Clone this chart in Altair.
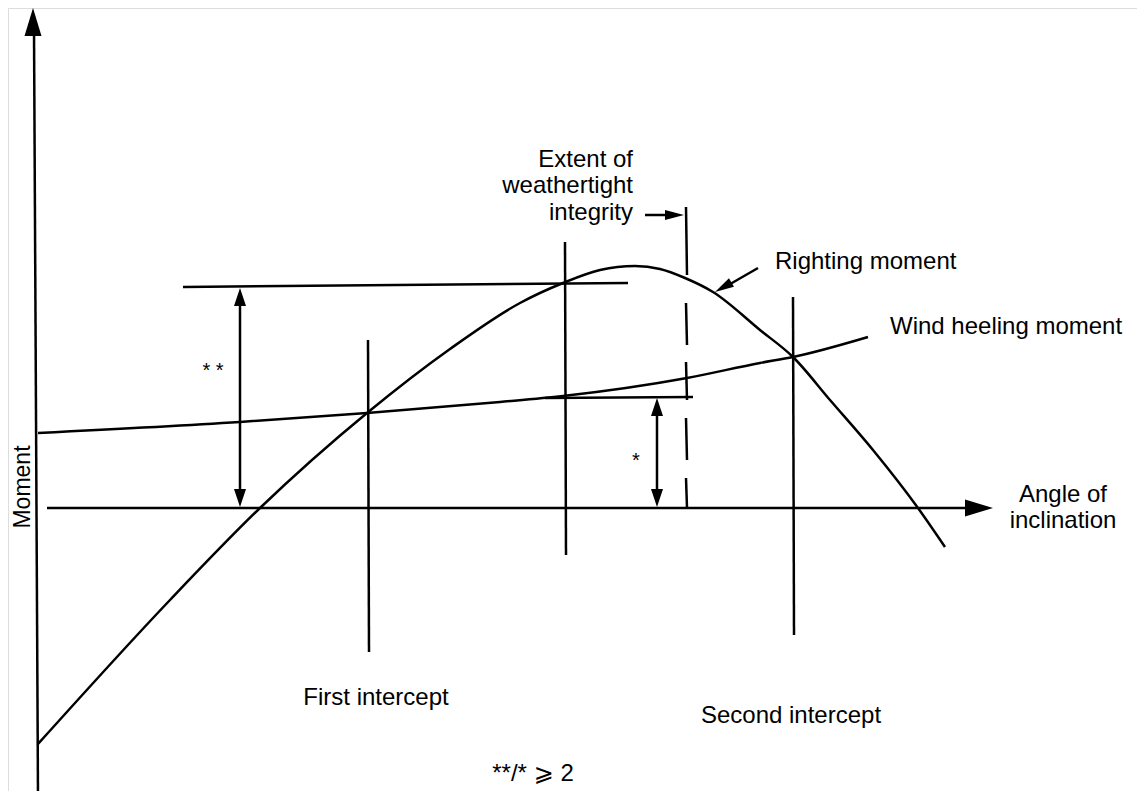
import altair as alt
import pandas as pd

# ---- curves (page pixel coordinates) ----
RIGHT_X = [38, 170, 260, 367, 450, 520, 563, 600, 635, 660, 685, 713, 760, 793, 830, 873, 918, 945]
RIGHT_Y = [744, 600, 508, 413, 349, 303, 283, 270, 266, 269, 278, 292, 330, 357, 400, 450, 508, 547]
WIND_X = [38, 240, 367, 500, 563, 687, 760, 793, 868]
WIND_Y = [433, 422, 413, 402, 396, 378, 363, 357, 337]

# ---- straight segments ----
SEG_X1 = [34, 47, 183, 545, 368, 565, 793, 240, 657, 645, 758]
SEG_Y1 = [30, 508, 287, 398, 340, 242, 297, 300, 410, 215, 268]
SEG_X2 = [38, 975, 628, 693, 369, 566, 794, 240, 657, 670, 725]
SEG_Y2 = [799, 508, 283, 397, 652, 555, 635, 495, 495, 215, 287]

# ---- dashed line: extent of weathertight integrity ----
DASH_X = 686
DASH_Y1 = [207, 303, 362, 418, 478]
DASH_Y2 = [275, 345, 400, 460, 508]

# ---- arrow heads (tip position, direction in degrees clockwise from up) ----
HEAD_X = [33, 993, 240, 240, 657, 657, 684, 715]
HEAD_Y = [8, 508, 288, 507, 398, 507, 215, 292]
HEAD_ANGLE = [0, 90, 0, 180, 0, 180, 90, 240]
HEAD_KIND = ["big", "big", "dim", "dim", "dim", "dim", "small", "small"]

# ---- labels ----
LBL_TEXT = ["Extent of", "weathertight", "integrity",
            "Righting moment", "Wind heeling moment",
            "Angle of", "inclination", "First intercept", "Second intercept",
            "**/* \u2a7e 2"]
LBL_X = [633, 633, 633, 775, 890, 1063, 1063, 376, 791, 533]
LBL_Y = [167, 193, 220, 269, 334, 502, 528, 705, 723, 781]
LBL_ALIGN = ["right", "right", "right", "left", "left",
             "center", "center", "center", "center", "center"]

STAR_TEXT = ["* *", "*"]
STAR_X = [213, 636]
STAR_Y = [377, 467]

AXIS_TITLE = "Moment"
AXIS_TITLE_X = 30
AXIS_TITLE_Y = 487

FONT = "Liberation Sans, Helvetica, Arial, DejaVu Sans, sans-serif"
W, H = 1129, 783
xs = alt.Scale(domain=[8, 8 + W], nice=False, zero=False)
ys = alt.Scale(domain=[8, 8 + H], nice=False, zero=False, reverse=True)


def X(f):
    return alt.X(f, type="quantitative", scale=xs, axis=None)


def Y(f):
    return alt.Y(f, type="quantitative", scale=ys, axis=None)


curves = pd.DataFrame(
    [{"series": "right", "i": i, "x": x, "y": y} for i, (x, y) in enumerate(zip(RIGHT_X, RIGHT_Y))]
    + [{"series": "wind", "i": i, "x": x, "y": y} for i, (x, y) in enumerate(zip(WIND_X, WIND_Y))]
)
segs = pd.DataFrame({"x": SEG_X1, "y": SEG_Y1, "x2": SEG_X2, "y2": SEG_Y2})
dashes = pd.DataFrame({"x": [DASH_X] * len(DASH_Y1), "y": DASH_Y1, "x2": [DASH_X + 1] * len(DASH_Y1), "y2": DASH_Y2})
heads = pd.DataFrame({"x": HEAD_X, "y": HEAD_Y, "angle": HEAD_ANGLE, "kind": HEAD_KIND})
labels = pd.DataFrame({"x": LBL_X, "y": LBL_Y, "text": LBL_TEXT, "align": LBL_ALIGN})
stars = pd.DataFrame({"x": STAR_X, "y": STAR_Y, "text": STAR_TEXT})
title = pd.DataFrame({"x": [AXIS_TITLE_X], "y": [AXIS_TITLE_Y], "text": [AXIS_TITLE]})

layers = []

layers.append(
    alt.Chart(curves).mark_line(color="black", strokeWidth=2.5, interpolate="monotone").encode(
        x=X("x"), y=Y("y"), detail="series:N", order="i:Q"
    )
)
layers.append(
    alt.Chart(segs).mark_rule(color="black", strokeWidth=2.5).encode(
        x=X("x"), y=Y("y"), x2="x2", y2="y2"
    )
)
layers.append(
    alt.Chart(dashes).mark_rule(color="black", strokeWidth=2.5).encode(
        x=X("x"), y=Y("y"), x2="x2", y2="y2"
    )
)

PATHS = {
    "big": "M0,0L-8.5,28L8.5,28Z",
    "dim": "M0,0L-6,18L6,18Z",
    "small": "M0,0L-5,19L5,19Z",
}
for kind, path in PATHS.items():
    layers.append(
        alt.Chart(heads).transform_filter(alt.datum.kind == kind).mark_point(
            shape=path, size=4, filled=True, color="black", opacity=1, strokeWidth=0
        ).encode(x=X("x"), y=Y("y"), angle=alt.Angle("angle:Q", scale=None))
    )

for al in ["left", "center", "right"]:
    layers.append(
        alt.Chart(labels).transform_filter(alt.datum.align == al).mark_text(
            font=FONT, fontSize=24, color="black", align=al, baseline="alphabetic"
        ).encode(x=X("x"), y=Y("y"), text="text:N")
    )

layers.append(
    alt.Chart(stars).mark_text(
        font=FONT, fontSize=20, color="black", align="center", baseline="alphabetic"
    ).encode(x=X("x"), y=Y("y"), text="text:N")
)
layers.append(
    alt.Chart(title).mark_text(
        font=FONT, fontSize=23, color="black", align="center", baseline="alphabetic", angle=270
    ).encode(x=X("x"), y=Y("y"), text="text:N")
)

chart = alt.layer(*layers).properties(
    width=W, height=H, padding=0, autosize=alt.AutoSizeParams(type="none")
).configure_view(stroke=None).configure(background="white")

chart.save("out.html", embed_options={"renderer": "svg", "actions": False})
